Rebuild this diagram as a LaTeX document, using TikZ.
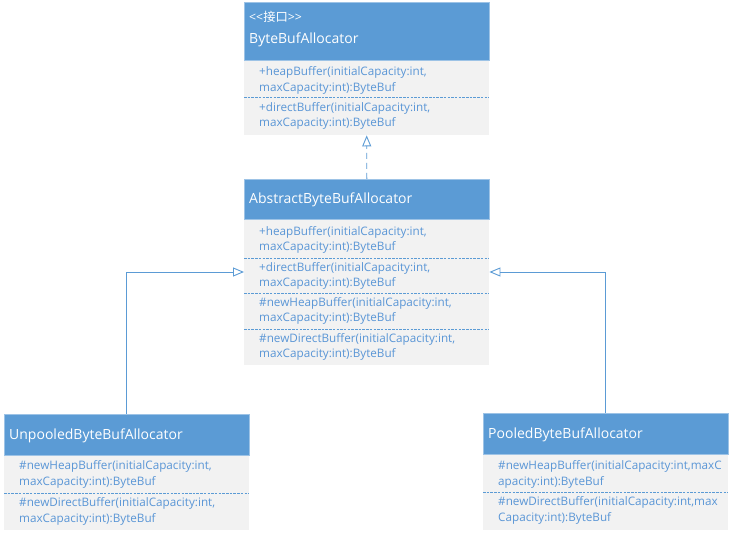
\documentclass[tikz,border=0pt]{standalone}
\usepackage{fontspec}
\setmainfont{Open Sans}[Ligatures=TeXOff]
\newfontfamily\cjk{Noto Sans CJK SC}
\usetikzlibrary{arrows.meta}
\definecolor{hblue}{HTML}{5B9BD5}
\definecolor{bgray}{HTML}{F2F2F2}
\definecolor{tblue}{HTML}{5A96D6}
\definecolor{lblue}{HTML}{9DC3E6}
\tikzset{
  hdr/.style={rectangle, fill=hblue, draw=lblue, line width=0.6pt, anchor=north west, minimum width=245pt, inner sep=0pt},
  bdy/.style={rectangle, fill=bgray, anchor=north west, minimum width=245pt, inner sep=0pt},
  htext/.style={anchor=west, inner sep=0pt, text=white, font=\fontsize{14}{16}\selectfont},
  mtext/.style={anchor=west, inner sep=0pt, text=tblue, font=\fontsize{11.7}{13}\selectfont},
  sep/.style={draw=hblue, line width=0.8pt, dash pattern=on 2.5pt off 1.2pt},
  conn/.style={draw=hblue, line width=0.9pt},
  tri/.style={-{Triangle[open, length=11pt, width=9pt, fill=white]}}
}
\begin{document}
\begin{tikzpicture}[x=1pt,y=-1pt]
\useasboundingbox[fill=white] (0,0) rectangle (729,534);
% Box 1
\node[bdy, minimum height=75pt] (ab) at (244,60) {};
\node[hdr, minimum height=58pt] (ah) at (244,2) {};
\node[htext, font=\fontsize{12.3}{14}\selectfont] (a0) at (249,16.5) {<<{\cjk 接口}>>};
\node[htext] (a1) at (249,39.5) {ByteBufAllocator};
\node[mtext] (a2) at (259,72.5) {+heapBuffer(initialCapacity:int,};
\node[mtext] (a3) at (259,88.5) {maxCapacity:int):ByteBuf};
\draw[sep] (ab.west |- 0,97) -- (ab.east |- 0,97);
\node[mtext] (a4) at (259,108.5) {+directBuffer(initialCapacity:int,};
\node[mtext] (a5) at (259,123.5) {maxCapacity:int):ByteBuf};
% Box 2
\node[bdy, minimum height=146pt] (bb) at (244,219) {};
\node[hdr, minimum height=40pt] (bh) at (244,179) {};
\node[htext] (b1) at (249,199.5) {AbstractByteBufAllocator};
\node[mtext] (b2) at (259,232.5) {+heapBuffer(initialCapacity:int,};
\node[mtext] (b3) at (259,247.5) {maxCapacity:int):ByteBuf};
\draw[sep] (bb.west |- 0,258) -- (bb.east |- 0,258);
\node[mtext] (b4) at (259,268.5) {+directBuffer(initialCapacity:int,};
\node[mtext] (b5) at (259,283.5) {maxCapacity:int):ByteBuf};
\draw[sep] (bb.west |- 0,293) -- (bb.east |- 0,293);
\node[mtext] (b6) at (259,303.5) {\#newHeapBuffer(initialCapacity:int,};
\node[mtext] (b7) at (259,318.5) {maxCapacity:int):ByteBuf};
\draw[sep] (bb.west |- 0,329) -- (bb.east |- 0,329);
\node[mtext] (b8) at (259,339.5) {\#newDirectBuffer(initialCapacity:int,};
\node[mtext] (b9) at (259,354.5) {maxCapacity:int):ByteBuf};
% Box 3
\node[bdy, minimum height=75pt] (cb) at (4,455) {};
\node[hdr, minimum height=41pt] (ch) at (4,414) {};
\node[htext] (c1) at (9,435.5) {UnpooledByteBufAllocator};
\node[mtext] (c2) at (19,466.5) {\#newHeapBuffer(initialCapacity:int,};
\node[mtext] (c3) at (19,482.5) {maxCapacity:int):ByteBuf};
\draw[sep] (cb.west |- 0,493) -- (cb.east |- 0,493);
\node[mtext] (c4) at (19,503.5) {\#newDirectBuffer(initialCapacity:int,};
\node[mtext] (c5) at (19,519.5) {maxCapacity:int):ByteBuf};
% Box 4
\node[bdy, minimum height=76pt] (db) at (483,454) {};
\node[hdr, minimum height=41pt] (dh) at (483,413) {};
\node[htext] (d1) at (488,434.5) {PooledByteBufAllocator};
\node[mtext] (d2) at (498,466.5) {\#newHeapBuffer(initialCapacity:int,maxC};
\node[mtext] (d3) at (498,482.5) {apacity:int):ByteBuf};
\draw[sep] (db.west |- 0,492) -- (db.east |- 0,492);
\node[mtext] (d4) at (498,502.5) {\#newDirectBuffer(initialCapacity:int,max};
\node[mtext] (d5) at (498,518.5) {Capacity:int):ByteBuf};
% Connectors
\draw[conn, tri, dash pattern=on 6pt off 4pt] (bh.north) -- (ab.south);
\coordinate (lk) at (126,272);
\coordinate (rk) at (605,272);
\draw[conn, tri] (lk |- ch.north) -- (lk) -- (bb.west |- lk);
\draw[conn, tri] (rk |- dh.north) -- (rk) -- (bb.east |- rk);
\end{tikzpicture}
\end{document}
